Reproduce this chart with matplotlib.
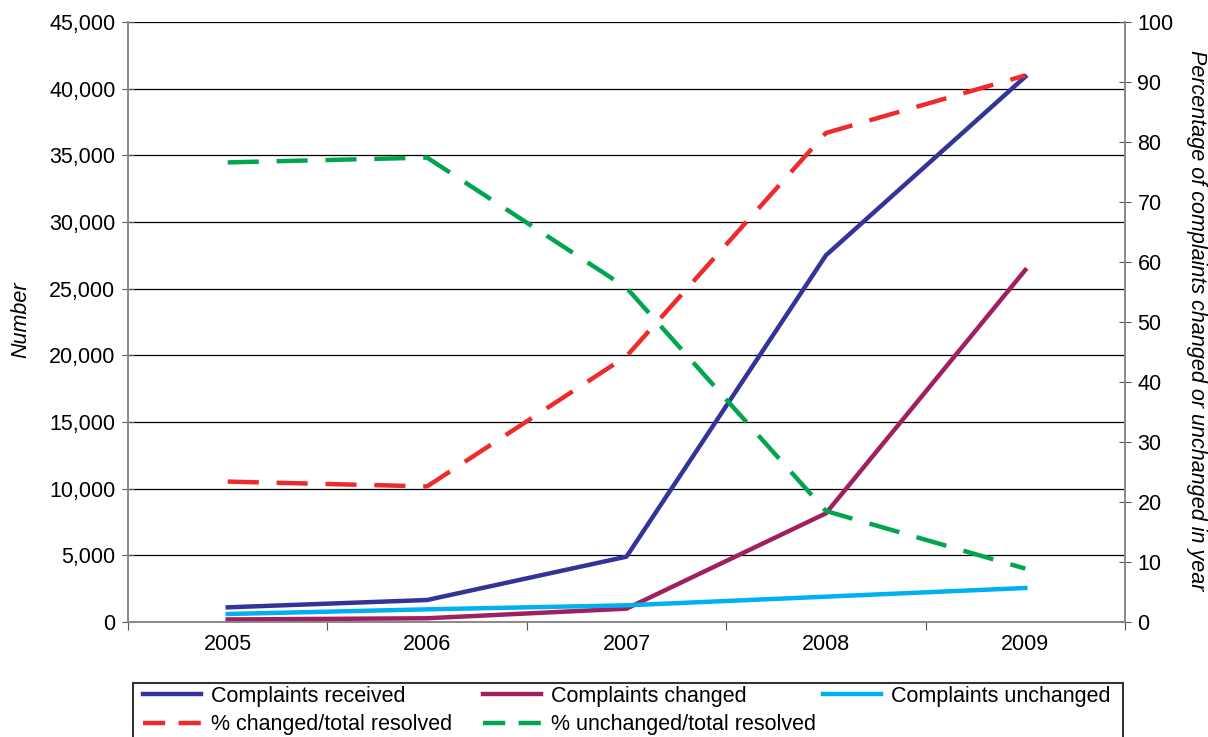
import matplotlib
matplotlib.use("Agg")
import matplotlib.pyplot as plt
from matplotlib.lines import Line2D
from matplotlib.patches import Rectangle
from matplotlib.ticker import FuncFormatter, MultipleLocator

plt.rcParams['font.family'] = ['Liberation Sans', 'DejaVu Sans']

years = ["2005", "2006", "2007", "2008", "2009"]
received = [1100, 1650, 4900, 27500, 40900]
changed = [190, 280, 1000, 8150, 26400]
unchanged = [600, 950, 1250, 1900, 2550]
pct_changed = [23.4, 22.6, 44.3, 81.5, 91.1]
pct_unchanged = [76.6, 77.4, 55.7, 18.5, 8.9]

navy = "#333399"
maroon = "#A0205F"
cyan = "#00B0F0"
red = "#EE2A2A"
green = "#00A550"

W, H = 1208, 737
fig = plt.figure(figsize=(W / 100, H / 100), dpi=100)
ax = fig.add_axes([128 / W, 1 - 622 / H, (1125 - 128) / W, 600 / H])
ax2 = ax.twinx()

fs = 15.5
x = list(range(len(years)))
lw = 3.2
dash = (7, 4)
l1, = ax.plot(x, received, color=navy, lw=lw, label="Complaints received", zorder=3)
l2, = ax.plot(x, changed, color=maroon, lw=lw, label="Complaints changed", zorder=3)
l3, = ax.plot(x, unchanged, color=cyan, lw=lw, label="Complaints unchanged", zorder=3)
l4, = ax2.plot(x, pct_changed, color=red, lw=lw, dashes=dash, label="% changed/total resolved")
l5, = ax2.plot(x, pct_unchanged, color=green, lw=lw, dashes=dash, label="% unchanged/total resolved")

ax.set_xlim(-0.5, 4.5)
ax.set_ylim(0, 45000)
ax2.set_ylim(0, 100)
ax.yaxis.set_major_locator(MultipleLocator(5000))
ax2.yaxis.set_major_locator(MultipleLocator(10))
ax.yaxis.set_major_formatter(FuncFormatter(lambda v, p: f"{int(v):,}"))

# category boundaries carry the tick marks, year names sit between them
ax.set_xticks([i + 0.5 for i in range(-1, 5)])
ax.set_xticklabels([])
ax.set_xticks(x, minor=True)
ax.set_xticklabels(years, minor=True)
ax.tick_params(axis='x', which='minor', length=0, labelsize=fs, pad=9)
ax.tick_params(axis='x', which='major', direction='out', length=6, color='#555555')
ax.tick_params(axis='y', direction='inout', length=8, labelsize=fs, color='#555555', pad=5)
ax2.tick_params(axis='y', direction='inout', length=8, labelsize=fs, color='#555555', pad=5)

ax.grid(axis='y', color='black', lw=0.9)
ax.set_axisbelow(True)
for a in (ax, ax2):
    for sp in ['left', 'right', 'bottom']:
        a.spines[sp].set_color('#888888')
        a.spines[sp].set_linewidth(1.2)
    a.spines['top'].set_visible(False)

ax.set_ylabel("Number", fontsize=fs, style='italic')
ax.yaxis.label.set(ha='center', va='center')
ax.yaxis.set_label_coords((21 - 128) / 997, 0.503)
ax2.set_ylabel("Percentage of complaints changed or unchanged in year", fontsize=fs,
               style='italic', rotation=-90)
ax2.yaxis.label.set(ha='center', va='center')
ax2.yaxis.set_label_coords((1197 - 128) / 997, 0.503)

# legend: boxed, three columns, box runs past the bottom edge
fig.patches.append(Rectangle((133 / W, -0.05), (1123 - 133) / W, (1 - 683 / H) + 0.05,
                             transform=fig.transFigure, fill=False, edgecolor='#333333',
                             lw=1.5))


def proxy(line):
    ls = line.get_linestyle()
    h = Line2D([], [], color=line.get_color(), lw=lw, label=line.get_label())
    if ls != '-':
        h.set_dashes((5, 3))
    return h


columns = [([l1, l4], 143), ([l2, l5], 483), ([l3], 823)]
for lines, xpx in columns:
    leg = fig.legend(handles=[proxy(l) for l in lines], loc='upper left',
                     bbox_to_anchor=(xpx / W, 1 - 686 / H), frameon=False,
                     fontsize=fs, handlelength=2.7, handletextpad=0.45,
                     borderpad=0, borderaxespad=0, labelspacing=0.33)

fig.savefig("out.png", dpi=100)
